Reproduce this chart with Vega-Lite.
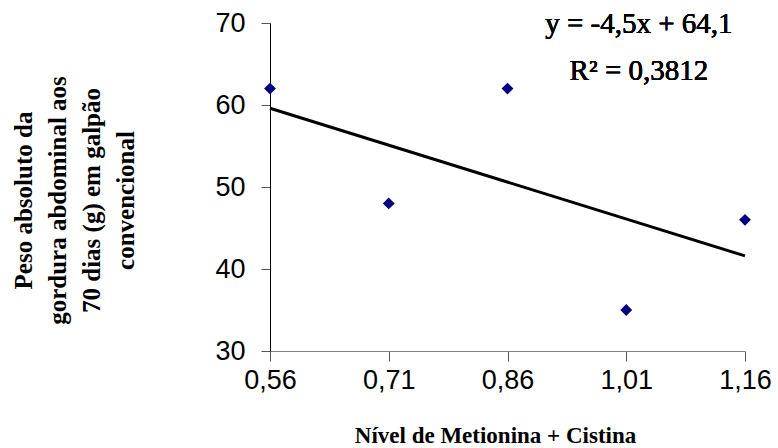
{
  "$schema": "https://vega.github.io/schema/vega-lite/v6.json",
  "width": 475,
  "height": 328,
  "autosize": {"type": "none"},
  "padding": {"left": 270, "top": 23, "right": 33, "bottom": 97},
  "background": "white",
  "config": {"view": {"stroke": null}},
  "data": {"values": [
    {"nivel": 0.56, "peso": 62},
    {"nivel": 0.71, "peso": 48},
    {"nivel": 0.86, "peso": 62},
    {"nivel": 1.01, "peso": 35},
    {"nivel": 1.16, "peso": 46}
  ]},
  "layer": [
    {
      "transform": [{"regression": "peso", "on": "nivel", "extent": [0.56, 1.16]}],
      "mark": {"type": "line", "color": "black", "strokeWidth": 3, "clip": false},
      "encoding": {
        "x": {"field": "nivel", "type": "quantitative"},
        "y": {"field": "peso", "type": "quantitative"}
      }
    },
    {
      "mark": {"type": "point", "shape": "diamond", "filled": true, "color": "#000080", "size": 140, "opacity": 1, "clip": false},
      "encoding": {
        "x": {
          "field": "nivel", "type": "quantitative",
          "scale": {"domain": [0.56, 1.16], "nice": false, "zero": false},
          "axis": {
            "values": [0.56, 0.71, 0.86, 1.01, 1.16],
            "labelExpr": "replace(format(datum.value, '.2f'), '.', ',')",
            "grid": false,
            "domainColor": "#808080", "domainWidth": 1,
            "tickColor": "#555555", "tickSize": 10, "tickWidth": 1,
            "labelFont": "Liberation Sans", "labelFontSize": 27, "labelColor": "black",
            "labelPadding": 6, "labelFlush": false,
            "title": "Nível de Metionina + Cistina",
            "titleFont": "Liberation Serif", "titleFontSize": 23, "titleFontWeight": "bold", "titleColor": "black",
            "titleX": 225, "titleY": 84, "titleBaseline": "middle", "titleAlign": "center"
          }
        },
        "y": {
          "field": "peso", "type": "quantitative",
          "scale": {"domain": [30, 70], "nice": false, "zero": false},
          "axis": {
            "values": [30, 40, 50, 60, 70],
            "grid": false,
            "domainColor": "black", "domainWidth": 1,
            "tickColor": "#555555", "tickSize": 9, "tickWidth": 1,
            "labelFont": "Liberation Sans", "labelFontSize": 27, "labelColor": "black",
            "labelPadding": 16, "labelFlush": false,
            "title": ["Peso absoluto da", "gordura abdominal aos", "70 dias (g) em galpão", "convencional"],
            "titleFont": "Liberation Serif", "titleFontSize": 25, "titleFontWeight": "bold", "titleColor": "black",
            "titleLineHeight": 34, "titleAngle": -90,
            "titleX": -259, "titleY": 177, "titleBaseline": "top", "titleAlign": "center"
          }
        }
      }
    },
    {
      "mark": {"type": "text", "text": "y = -4,5x + 64,1", "font": "Liberation Serif", "fontSize": 29, "fontWeight": 300, "fill": "black", "stroke": null, "align": "center", "baseline": "middle", "clip": false},
      "encoding": {"x": {"datum": 1.026}, "y": {"datum": 69.9}}
    },
    {
      "mark": {"type": "text", "text": "R² = 0,3812", "font": "Liberation Serif", "fontSize": 29, "fontWeight": 300, "fill": "black", "stroke": null, "align": "center", "baseline": "middle", "clip": false},
      "encoding": {"x": {"datum": 1.026}, "y": {"datum": 64.2}}
    }
  ]
}
